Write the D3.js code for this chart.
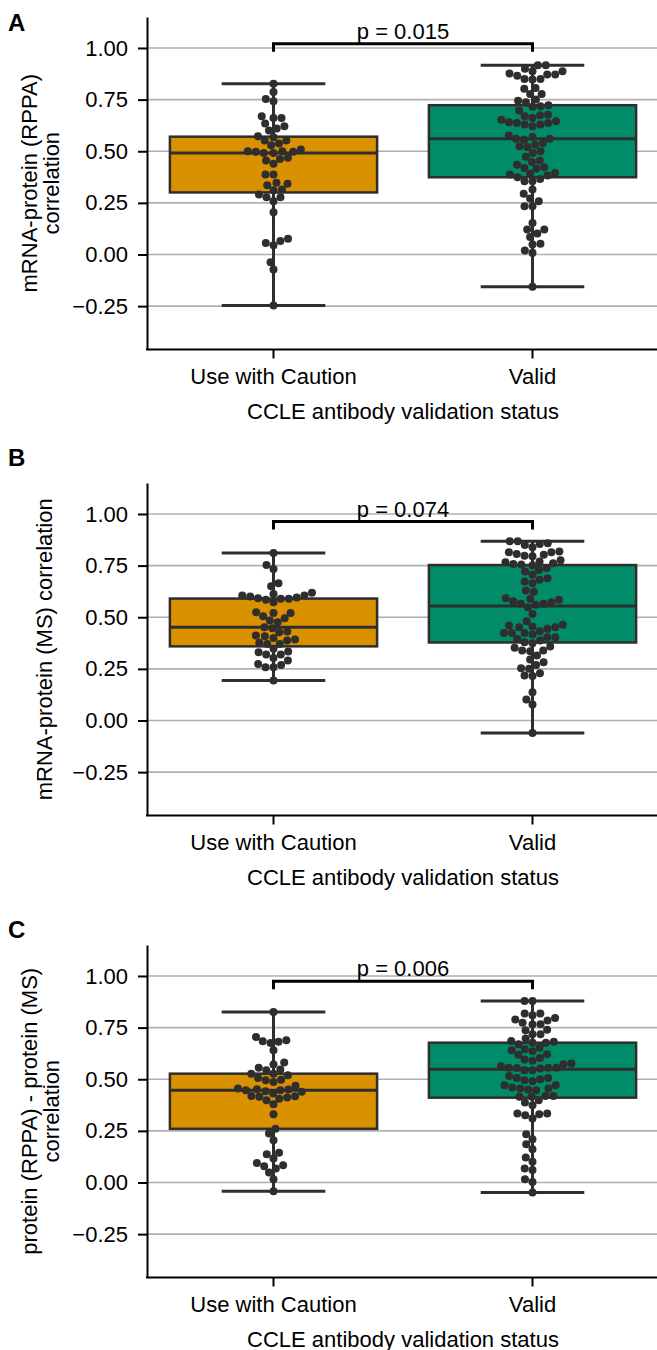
<!DOCTYPE html>
<html>
<head>
<meta charset="utf-8">
<script src="https://cdn.jsdelivr.net/npm/d3@7"></script>
<style>
  body { margin: 0; background: #fff; }
  text { font-family: "Liberation Sans", Arial, sans-serif; fill: #000; }
</style>
</head>
<body>
<svg id="chart" width="657" height="1350"></svg>
<script>
var categories = ["Use with Caution", "Valid"];
var panelLetters = ["A", "B", "C"];
var yLabels = [
    ["mRNA-protein (RPPA)", "correlation"],
    ["mRNA-protein (MS) correlation"],
    ["protein (RPPA) - protein (MS)", "correlation"]
];
var xLabel = "CCLE antibody validation status";
var pLabels = ["p = 0.015", "p = 0.074", "p = 0.006"];
var bracketLevels = [1.021, 0.963, 0.974];
var yTicks = [-0.25, 0, 0.25, 0.5, 0.75, 1.0];
var yDomain = [-0.46, 1.15];

// mRNA-protein (RPPA) correlations
var rppaCaution = [0.827, 0.787, 0.753, 0.742, 0.669, 0.661, 0.661, 0.634, 0.621, 0.610, 0.600, 0.573,
    0.568, 0.552, 0.552, 0.537, 0.529, 0.508, 0.500, 0.500, 0.497, 0.497, 0.492, 0.492, 0.468, 0.463,
    0.455, 0.440, 0.387, 0.387, 0.347, 0.343, 0.335, 0.315, 0.311, 0.290, 0.277, 0.277, 0.258, 0.205,
    0.076, 0.065, 0.056, 0.045, -0.037, -0.073, -0.247];
var rppaValid = [0.916, 0.916, 0.900, 0.887, 0.887, 0.876, 0.866, 0.871, 0.871, 0.850, 0.847, 0.850,
    0.806, 0.803, 0.777, 0.777, 0.745, 0.750, 0.737, 0.723, 0.718, 0.715, 0.697, 0.677, 0.674, 0.669,
    0.661, 0.653, 0.645, 0.640, 0.637, 0.637, 0.629, 0.629, 0.621, 0.576, 0.569, 0.560, 0.556, 0.560,
    0.540, 0.532, 0.524, 0.521, 0.500, 0.492, 0.473, 0.455, 0.448, 0.435, 0.423, 0.416, 0.419, 0.395,
    0.392, 0.382, 0.387, 0.374, 0.366, 0.355, 0.355, 0.315, 0.294, 0.271, 0.258, 0.234, 0.234, 0.153,
    0.121, 0.121, 0.102, 0.085, 0.048, 0.052, 0.019, 0.008, -0.156];

// mRNA-protein (MS) correlations
var msCaution = [0.811, 0.753, 0.734, 0.665, 0.650, 0.613, 0.600, 0.592, 0.585, 0.605, 0.573, 0.589,
    0.589, 0.595, 0.605, 0.618, 0.521, 0.505, 0.521, 0.524, 0.495, 0.484, 0.476, 0.447, 0.452, 0.431,
    0.427, 0.408, 0.411, 0.392, 0.376, 0.371, 0.371, 0.387, 0.400, 0.347, 0.331, 0.334, 0.319, 0.319,
    0.303, 0.290, 0.273, 0.258, 0.258, 0.269, 0.194];
var msValid = [0.868, 0.868, 0.850, 0.839, 0.855, 0.858, 0.806, 0.815, 0.803, 0.795, 0.798, 0.815,
    0.818, 0.776, 0.770, 0.766, 0.762, 0.758, 0.755, 0.752, 0.739, 0.729, 0.706, 0.721, 0.682, 0.665,
    0.673, 0.689, 0.629, 0.624, 0.592, 0.573, 0.565, 0.585, 0.560, 0.565, 0.577, 0.589, 0.548, 0.516,
    0.481, 0.455, 0.452, 0.444, 0.460, 0.452, 0.464, 0.424, 0.416, 0.424, 0.424, 0.432, 0.403, 0.403,
    0.379, 0.374, 0.387, 0.395, 0.352, 0.335, 0.339, 0.339, 0.358, 0.315, 0.295, 0.282, 0.269, 0.253,
    0.250, 0.215, 0.218, 0.229, 0.137, 0.102, 0.077, -0.060];

// protein (RPPA) - protein (MS) correlations
var protCaution = [0.826, 0.705, 0.684, 0.676, 0.681, 0.689, 0.640, 0.581, 0.571, 0.556, 0.547, 0.544,
    0.527, 0.527, 0.519, 0.506, 0.487, 0.495, 0.498, 0.468, 0.452, 0.431, 0.455, 0.442, 0.439, 0.447,
    0.447, 0.450, 0.415, 0.398, 0.419, 0.406, 0.411, 0.418, 0.379, 0.331, 0.260, 0.237, 0.205, 0.137,
    0.144, 0.116, 0.095, 0.079, 0.084, 0.068, 0.048, 0.016, -0.042];
var protValid = [0.879, 0.879, 0.818, 0.810, 0.818, 0.789, 0.773, 0.797, 0.785, 0.766, 0.765, 0.740,
    0.737, 0.718, 0.718, 0.677, 0.681, 0.697, 0.669, 0.677, 0.685, 0.645, 0.653, 0.640, 0.635, 0.621,
    0.619, 0.595, 0.576, 0.573, 0.589, 0.603, 0.555, 0.552, 0.544, 0.556, 0.544, 0.556, 0.556, 0.563,
    0.506, 0.500, 0.490, 0.495, 0.506, 0.516, 0.471, 0.455, 0.450, 0.447, 0.455, 0.460, 0.471, 0.419,
    0.415, 0.419, 0.398, 0.415, 0.387, 0.374, 0.334, 0.326, 0.331, 0.334, 0.310, 0.234, 0.210, 0.185,
    0.161, 0.121, 0.100, 0.068, 0.060, 0.016, 0.003, -0.048];

var panelSeries = [
    [rppaCaution, rppaValid],
    [msCaution, msValid],
    [protCaution, protValid]
];
var boxColors = ["#da9100", "#008c69"];

var lineColor = "#2e2e2e";
var panelTops = [17, 483, 945];
var panelLetterY = [31, 466, 938];
var plotH = 332.5;
var left = 147, right = 657;
var fontSize = "22px";
var dotR = 4;

var svg = d3.select("#chart");
var x = d3.scaleBand().domain(categories).range([144, 662]);
var bw = x.bandwidth();

// simple beeswarm: place points bottom-up, nearest free spot to the centre line
function swarm(values, yScale, r) {
    var d = 2 * r;
    var pts = values.slice().sort(d3.ascending).map(function (v) {
        return {v: v, y: yScale(v), dx: 0};
    });
    var placed = [];
    pts.forEach(function (p) {
        var near = placed.filter(function (q) { return Math.abs(q.y - p.y) < d; });
        var cands = [0];
        near.forEach(function (q) {
            var off = Math.sqrt(d * d - (q.y - p.y) * (q.y - p.y));
            cands.push(q.dx - off, q.dx + off);
        });
        cands.sort(function (a, b) { return Math.abs(a) - Math.abs(b) || a - b; });
        p.dx = cands.find(function (c) {
            return near.every(function (q) {
                return (q.dx - c) * (q.dx - c) + (q.y - p.y) * (q.y - p.y) >= d * d - 0.01;
            });
        });
        placed.push(p);
    });
    return pts;
}

function boxStats(values) {
    var s = values.slice().sort(d3.ascending);
    return {
        q1: d3.quantile(s, 0.25),
        med: d3.quantile(s, 0.5),
        q3: d3.quantile(s, 0.75),
        lo: s[0],
        hi: s[s.length - 1]
    };
}

panelSeries.forEach(function (series, i) {
    var top = panelTops[i];
    var y = d3.scaleLinear().domain(yDomain).range([top + plotH, top]);
    var g = svg.append("g");

    g.append("g").selectAll("line")
        .data(yTicks)
        .enter().append("line")
        .attr("x1", left).attr("x2", right)
        .attr("y1", function (d) { return y(d); })
        .attr("y2", function (d) { return y(d); })
        .attr("stroke", "#b0b0b0")
        .attr("stroke-width", 1.6);

    series.forEach(function (values, j) {
        var cx = x(categories[j]) + bw / 2;
        var st = boxStats(values);
        var bg = g.append("g");

        bg.append("line")
            .attr("x1", cx).attr("x2", cx)
            .attr("y1", y(st.hi)).attr("y2", y(st.lo))
            .attr("stroke", lineColor).attr("stroke-width", 3);
        bg.append("rect")
            .attr("x", cx - bw * 0.4).attr("width", bw * 0.8)
            .attr("y", y(st.q3)).attr("height", y(st.q1) - y(st.q3))
            .attr("fill", boxColors[j])
            .attr("stroke", lineColor).attr("stroke-width", 2.5);
        bg.selectAll(".cap")
            .data([st.hi, st.lo])
            .enter().append("line")
            .attr("x1", cx - bw * 0.2).attr("x2", cx + bw * 0.2)
            .attr("y1", function (d) { return y(d); })
            .attr("y2", function (d) { return y(d); })
            .attr("stroke", lineColor).attr("stroke-width", 3);
        bg.append("line")
            .attr("x1", cx - bw * 0.4).attr("x2", cx + bw * 0.4)
            .attr("y1", y(st.med)).attr("y2", y(st.med))
            .attr("stroke", lineColor).attr("stroke-width", 3);

        bg.selectAll("circle")
            .data(swarm(values, y, dotR))
            .enter().append("circle")
            .attr("cx", function (d) { return cx + d.dx; })
            .attr("cy", function (d) { return d.y; })
            .attr("r", dotR)
            .attr("fill", lineColor);
    });

    // axes
    var yAxis = g.append("g")
        .attr("transform", "translate(" + left + ",0)")
        .call(d3.axisLeft(y).tickValues(yTicks).tickFormat(d3.format(".2f"))
            .tickSize(9).tickPadding(10).tickSizeOuter(0));
    yAxis.select(".domain").attr("stroke-width", 2);
    yAxis.selectAll(".tick line").attr("stroke-width", 2);
    yAxis.selectAll("text").attr("font-size", fontSize).attr("font-family", null);

    var xAxis = g.append("g")
        .attr("transform", "translate(0," + (top + plotH) + ")")
        .call(d3.axisBottom(x).tickSize(9).tickSizeOuter(0));
    xAxis.select(".domain").remove();
    xAxis.append("line").attr("x1", left - 1).attr("x2", right).attr("stroke", "#000").attr("stroke-width", 2);
    xAxis.selectAll(".tick line").attr("stroke-width", 2);
    xAxis.selectAll("text").attr("font-size", fontSize).attr("font-family", null)
        .attr("dy", null).attr("y", 34.5);

    g.append("text")
        .attr("x", (x(categories[0]) + x(categories[1]) + bw) / 2)
        .attr("y", top + plotH + 69)
        .attr("text-anchor", "middle")
        .style("font-size", fontSize)
        .text(xLabel);

    // y label (one or two lines, rotated)
    var midY = top + plotH / 2;
    var lines = yLabels[i];
    var baseX = lines.length === 2 ? [37, 59] : [51.5];
    lines.forEach(function (t, k) {
        g.append("text")
            .attr("transform", "translate(" + baseX[k] + "," + midY + ") rotate(-90)")
            .attr("text-anchor", "middle")
            .style("font-size", fontSize)
            .text(t);
    });

    // significance bracket
    var x1 = x(categories[0]) + bw / 2, x2 = x(categories[1]) + bw / 2;
    var by = y(bracketLevels[i]);
    g.append("path")
        .attr("d", "M" + x1 + "," + (by + 8) + "V" + by + "H" + x2 + "V" + (by + 8))
        .attr("fill", "none").attr("stroke", "#000").attr("stroke-width", 3);
    g.append("text")
        .attr("x", (x1 + x2) / 2).attr("y", by - 5)
        .attr("text-anchor", "middle")
        .style("font-size", fontSize)
        .text(pLabels[i]);

    g.append("text")
        .attr("x", 8).attr("y", panelLetterY[i])
        .style("font-size", "24px").style("font-weight", "bold")
        .text(panelLetters[i]);
});
</script>
</body>
</html>
